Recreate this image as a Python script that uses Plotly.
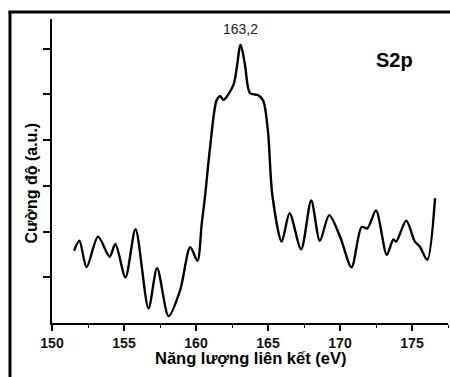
import plotly.graph_objects as go

# Binding energy (eV) and intensity (a.u.)
energy = [151.53, 151.9, 152.4, 153.2, 154.0, 154.4, 155.1, 155.8, 156.7, 157.3,
          158.1, 158.9, 159.6, 160.1, 160.4, 160.62, 160.97, 161.44, 161.7, 161.9,
          162.6, 163.1, 163.4, 163.75, 164.33, 164.67, 165.0, 165.3, 165.95, 166.5,
          167.3, 168.0, 168.6, 169.25, 170.0, 170.8, 171.5, 171.9, 172.5, 173.25,
          173.7, 173.9, 174.6, 175.2, 175.55, 176.06, 176.6]
intensity = [1.58, 1.80, 1.22, 1.89, 1.45, 1.73, 1.00, 2.05, 0.32, 1.20,
             0.15, 0.72, 1.66, 1.36, 2.18, 2.75, 3.82, 4.88, 4.96, 4.88,
             5.21, 6.09, 5.65, 5.03, 4.98, 4.86, 4.19, 2.80, 1.78, 2.40,
             1.61, 2.68, 1.80, 2.36, 1.89, 1.22, 2.10, 2.07, 2.46, 1.49,
             1.83, 1.78, 2.24, 1.78, 1.67, 1.38, 2.73]

x_ticks = [150, 155, 160, 165, 170, 175]
y_ticks = [1, 2, 3, 4, 5, 6]
peak_label = "163,2"
peak_pos = (163.1, 6.44)
species_label = "S2p"
x_title = "Năng lượng liên kết (eV)"
y_title = "Cường độ (a.u.)"

FONT = "Liberation Sans, Arial, sans-serif"

fig = go.Figure()
fig.add_trace(go.Scatter(
    x=energy, y=intensity, mode="lines",
    line=dict(color="black", width=2.4, shape="spline", smoothing=0.8),
    hoverinfo="skip", showlegend=False,
))

fig.update_layout(
    width=450, height=377,
    margin=dict(l=52, r=2, t=19, b=54),
    paper_bgcolor="white", plot_bgcolor="white",
    font=dict(family=FONT, color="black"),
    xaxis=dict(
        range=[150, 177.5], tickvals=x_ticks, ticks="outside", ticklen=6,
        tickwidth=1.5, tickcolor="black", showline=True, linewidth=1.5,
        linecolor="black", showgrid=False, zeroline=False,
        tickfont=dict(family=FONT, size=14, color="#111", weight="bold"),
        minor=dict(dtick=2.5, tick0=150, ticks="outside", ticklen=3,
                   tickwidth=1.2, tickcolor="black", showgrid=False),
    ),
    yaxis=dict(
        range=[0, 6.65], tickvals=y_ticks, ticks="outside", ticklen=7,
        tickwidth=1.5, tickcolor="black", showline=True, linewidth=1.5,
        linecolor="black", showgrid=False, zeroline=False,
        showticklabels=False,
    ),
    annotations=[
        dict(x=peak_pos[0], y=peak_pos[1], xref="x", yref="y", text=peak_label,
             showarrow=False, font=dict(family=FONT, size=14, color="#222")),
        dict(x=173.75, y=5.76, xref="x", yref="y", text=species_label,
             showarrow=False,
             font=dict(family=FONT, size=20, color="black", weight="bold")),
        dict(x=0.502, y=-0.115, xref="paper", yref="paper", text=x_title,
             showarrow=False, xanchor="center", yanchor="middle",
             font=dict(family=FONT, size=16.5, color="black", weight="bold")),
        dict(x=-0.052, y=0.46, xref="paper", yref="paper", text=y_title,
             showarrow=False, textangle=-90, xanchor="center", yanchor="middle",
             font=dict(family=FONT, size=16, color="black", weight="bold")),
    ],
    shapes=[
        dict(type="line", xref="paper", yref="paper", x0=-0.1061, x1=-0.1061,
             y0=1.025, y1=-0.3, line=dict(color="black", width=3)),
        dict(type="line", xref="paper", yref="paper", x0=-0.11, x1=1.01,
             y0=1.023, y1=1.023, line=dict(color="black", width=3)),
    ],
)

fig.write_html("out.html")
